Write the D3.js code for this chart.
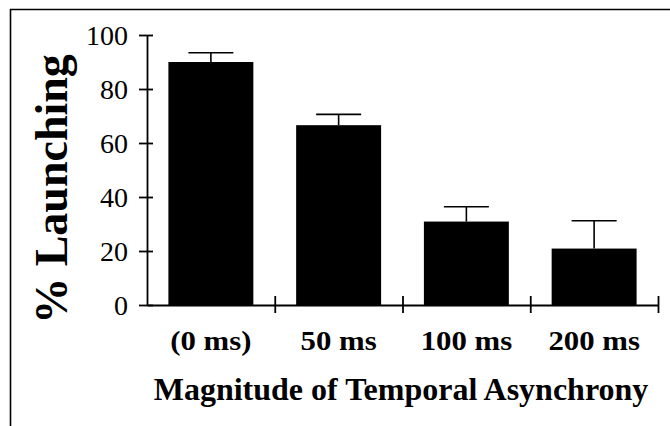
<!DOCTYPE html>
<html>
<head>
<meta charset="utf-8">
<script src="https://cdn.jsdelivr.net/npm/d3@7"></script>
<style>
  html, body { margin: 0; padding: 0; background: #fff; }
  svg { display: block; }
  text { font-family: "Liberation Serif", "Times New Roman", serif; fill: #000; }
</style>
</head>
<body>
<svg id="chart" width="670" height="426"></svg>
<script>
const categories = ["(0 ms)", "50 ms", "100 ms", "200 ms"];
const launching = [90, 66.6, 30.9, 20.9];
const errorTop = [93.4, 70.6, 36.4, 31.2];
const yTicks = [0, 20, 40, 60, 80, 100];
const yLabel = "% Launching";
const xLabel = "Magnitude of Temporal Asynchrony";

const svg = d3.select("#chart");
const W = 670, H = 426;

// frame (top and left borders)
svg.append("line").attr("x1", 10).attr("x2", W).attr("y1", 9.5).attr("y2", 9.5)
  .attr("stroke", "#000").attr("stroke-width", 1.6);
svg.append("line").attr("x1", 10.5).attr("x2", 10.5).attr("y1", 9).attr("y2", H)
  .attr("stroke", "#000").attr("stroke-width", 1.6);

const x0 = 147, x1 = 658, y0 = 305, y1 = 35;

const x = d3.scaleBand().domain(categories).range([x0, x1])
  .paddingInner(0.335).paddingOuter(0.1675);
const y = d3.scaleLinear().domain([0, 100]).range([y0, y1]);
const xb = d3.scaleLinear().domain([0, categories.length]).range([x0, x1]);

// bars
svg.append("g").selectAll("rect").data(categories).join("rect")
  .attr("x", d => x(d))
  .attr("width", x.bandwidth())
  .attr("y", (d, i) => y(launching[i]))
  .attr("height", (d, i) => y(0) - y(launching[i]))
  .attr("fill", "#000");

// error bars (upward only)
const eg = svg.append("g").attr("stroke", "#000").attr("stroke-width", 1.6);
categories.forEach((c, i) => {
  const cx = x(c) + x.bandwidth() / 2;
  eg.append("line").attr("x1", cx).attr("x2", cx)
    .attr("y1", y(launching[i])).attr("y2", y(errorTop[i]));
  eg.append("line").attr("x1", cx - 22.5).attr("x2", cx + 22.5)
    .attr("y1", y(errorTop[i])).attr("y2", y(errorTop[i]));
});

// y axis
const yAxis = svg.append("g").attr("transform", `translate(${x0},0)`)
  .call(d3.axisLeft(y).tickValues(yTicks).tickSize(8).tickSizeOuter(0).tickFormat(d3.format("d")));
yAxis.select(".domain").attr("stroke-width", 1.8);
yAxis.selectAll(".tick line").attr("x1", 6).attr("x2", -8).attr("stroke-width", 1.8);
yAxis.selectAll(".tick text")
  .attr("x", -19).attr("dy", "0.34em")
  .style("font-size", "28px").style("font-family", "'Liberation Serif', serif");

// x axis (ticks at category boundaries)
const xAxis = svg.append("g").attr("transform", `translate(0,${y0})`)
  .call(d3.axisBottom(xb).tickValues([1, 2, 3, 4]).tickSize(8).tickSizeOuter(0).tickFormat(""));
xAxis.select(".domain").attr("stroke-width", 1.8);
xAxis.selectAll(".tick line").attr("y1", -9).attr("y2", 8).attr("stroke-width", 1.8);

// category labels
svg.append("g").selectAll("text").data(categories).join("text")
  .attr("transform", d => `translate(${x(d) + x.bandwidth() / 2},350) scale(1.14,1)`)
  .attr("text-anchor", "middle")
  .style("font-size", "27px").style("font-weight", "bold")
  .text(d => d);

// x title
svg.append("text")
  .attr("x", 401).attr("y", 400)
  .attr("text-anchor", "middle")
  .style("font-size", "32px").style("font-weight", "bold")
  .text(xLabel);

// y title
svg.append("text")
  .attr("transform", "translate(67,189) rotate(-90)")
  .attr("text-anchor", "middle")
  .style("font-size", "46px").style("font-weight", "bold")
  .text(yLabel);
</script>
</body>
</html>
